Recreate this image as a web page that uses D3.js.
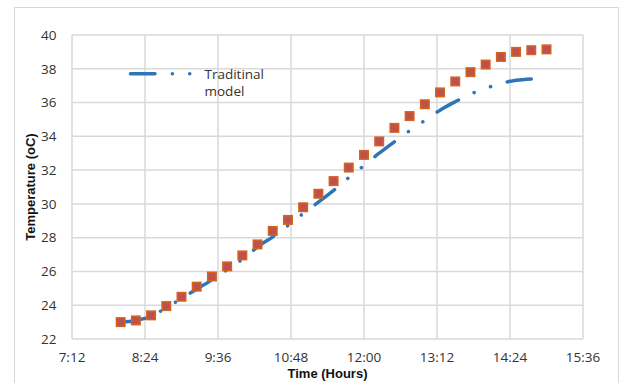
<!DOCTYPE html>
<html>
<head>
<meta charset="utf-8">
<script src="https://cdn.jsdelivr.net/npm/d3@7"></script>
<style>
  body { margin: 0; background: #fff; }
  text { font-family: "Open Sans", "Liberation Sans", sans-serif; fill: #333; }
  text.title { font-family: "Liberation Sans", sans-serif; font-size: 13px; font-weight: bold; fill: #111; }
</style>
</head>
<body>
<div id="chart"></div>
<script>
// measured temperatures, every 15 min from 8:00 to 15:00
var measuredTimes = ["8:00","8:15","8:30","8:45","9:00","9:15","9:30","9:45","10:00","10:15",
  "10:30","10:45","11:00","11:15","11:30","11:45","12:00","12:15","12:30","12:45",
  "13:00","13:15","13:30","13:45","14:00","14:15","14:30","14:45","15:00"];
var measuredValues = [23.0, 23.1, 23.4, 23.95, 24.5, 25.1, 25.7, 26.3, 26.95, 27.6,
  28.4, 29.05, 29.8, 30.6, 31.35, 32.15, 32.9, 33.7, 34.5, 35.2,
  35.9, 36.6, 37.25, 37.8, 38.25, 38.7, 39.0, 39.1, 39.15];

// traditional model, 8:00 to 14:45
var modelTimes = measuredTimes.slice(0, 28);
var modelValues = [23.0, 23.1, 23.35, 23.85, 24.4, 24.95, 25.5, 26.1, 26.72, 27.45,
  28.05, 28.72, 29.43, 30.1, 30.8, 31.56, 32.27, 33.0, 33.68, 34.33,
  34.94, 35.55, 36.05, 36.5, 36.84, 37.13, 37.32, 37.4];

var xTicks = ["7:12","8:24","9:36","10:48","12:00","13:12","14:24","15:36"];
var yTicks = [22, 24, 26, 28, 30, 32, 34, 36, 38, 40];
var legendLabel = ["Traditinal", "model"];

function toMin(s) { var p = s.split(":"); return +p[0] * 60 + +p[1]; }

var W = 623, H = 383;
var margin = {top: 35, left: 72},
    width = 511,
    height = 304;

var x = d3.scaleLinear()
    .domain([toMin(xTicks[0]), toMin(xTicks[xTicks.length - 1])])
    .range([0, width]);
var y = d3.scaleLinear()
    .domain([22, 40])
    .range([height, 0]);

var svg = d3.select("#chart").append("svg")
    .attr("width", W)
    .attr("height", H);

// outer chart frame
svg.append("rect")
    .attr("x", 14.5).attr("y", 7.5)
    .attr("width", 604).attr("height", 400)
    .attr("fill", "#fff")
    .attr("stroke", "#d9d9d9");

var g = svg.append("g")
    .attr("transform", "translate(" + margin.left + "," + margin.top + ")");

// grid
g.selectAll(".hgrid").data(yTicks).enter().append("line")
    .attr("x1", 0).attr("x2", width)
    .attr("y1", function(d) { return y(d); })
    .attr("y2", function(d) { return y(d); })
    .attr("stroke", "#d9d9d9").attr("stroke-width", 1.5);
g.selectAll(".vgrid").data(xTicks).enter().append("line")
    .attr("y1", 0).attr("y2", height)
    .attr("x1", function(d) { return x(toMin(d)); })
    .attr("x2", function(d) { return x(toMin(d)); })
    .attr("stroke", "#d9d9d9").attr("stroke-width", 1.5);

// tick labels
g.selectAll(".ylab").data(yTicks).enter().append("text")
    .attr("x", -15.5)
    .attr("y", function(d) { return y(d); })
    .attr("dy", "0.35em")
    .attr("text-anchor", "end")
    .style("font-size", "13.5px")
    .text(function(d) { return d; });
g.selectAll(".xlab").data(xTicks).enter().append("text")
    .attr("x", function(d) { return x(toMin(d)); })
    .attr("y", height + 23)
    .attr("text-anchor", "middle")
    .style("font-size", "13.5px")
    .text(function(d) { return d; });

// axis titles
svg.append("text")
    .attr("class", "title")
    .attr("transform", "translate(35," + (margin.top + height / 2) + ") rotate(-90)")
    .attr("text-anchor", "middle")
    .text("Temperature (oC)");
svg.append("text")
    .attr("class", "title")
    .attr("x", margin.left + width / 2)
    .attr("y", 378)
    .attr("text-anchor", "middle")
    .text("Time (Hours)");

var dashes = "24.5,17.3,0.1,17.3,0.1,17.3";

// model line
var modelData = modelTimes.map(function(t, i) { return {t: toMin(t), v: modelValues[i]}; });
var line = d3.line()
    .x(function(d) { return x(d.t); })
    .y(function(d) { return y(d.v); })
    .curve(d3.curveMonotoneX);
g.append("path")
    .datum(modelData)
    .attr("d", line)
    .attr("fill", "none")
    .attr("stroke", "#2e75b6")
    .attr("stroke-width", 3.5)
    .attr("stroke-linecap", "round")
    .attr("stroke-dasharray", dashes);

// measured markers
var measuredData = measuredTimes.map(function(t, i) { return {t: toMin(t), v: measuredValues[i]}; });
g.selectAll(".pt").data(measuredData).enter().append("rect")
    .attr("x", function(d) { return x(d.t) - 4.25; })
    .attr("y", function(d) { return y(d.v) - 4.25; })
    .attr("width", 8.5).attr("height", 8.5)
    .attr("fill", "#c0504d")
    .attr("stroke", "#d2641e")
    .attr("stroke-width", 1.5);

// legend
svg.append("line")
    .attr("x1", 130.5).attr("x2", 190.3)
    .attr("y1", 73.7).attr("y2", 73.7)
    .attr("stroke", "#2e75b6")
    .attr("stroke-width", 3.5)
    .attr("stroke-linecap", "round")
    .attr("stroke-dasharray", dashes);
svg.selectAll(".leg").data(legendLabel).enter().append("text")
    .attr("x", 204.5)
    .attr("y", function(d, i) { return 78.5 + i * 17; })
    .style("font-size", "13.5px")
    .text(function(d) { return d; });
</script>
</body>
</html>
